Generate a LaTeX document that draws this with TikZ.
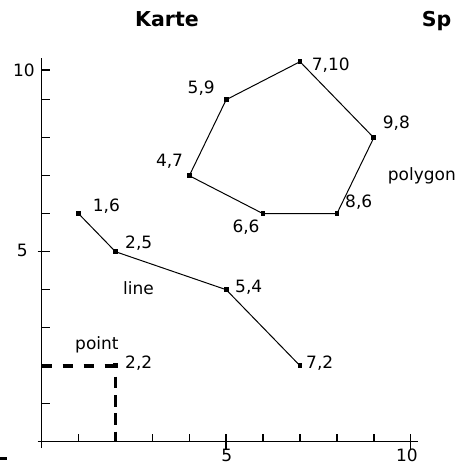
\documentclass[tikz,border=0pt]{standalone}
\usepackage{fontspec}
\setmainfont{DejaVu Sans}

\begin{document}
\begin{tikzpicture}[x=1.107cm, y=1.14cm,
    axis/.style={line width=1.3pt},
    edge/.style={line width=0.85pt},
    pt/.style={rectangle, fill=black, inner sep=0pt, minimum size=0.14cm},
    num/.style={inner sep=0pt, font=\fontsize{14.5}{17}\selectfont},
    hdr/.style={inner sep=0pt, font=\bfseries\fontsize{17.5}{20}\selectfont},
    hdash/.style={line width=3.2pt, dash pattern=on 0.3cm off 0.33cm},
    vdash/.style={line width=2pt, dash pattern=on 0.35cm off 0.2cm}
  ]
    \clip (-1.13,-0.613) rectangle (11.2,11.624);
    \coordinate (o) at (0,0);

    % axes
    \draw[axis] (-0.11,0) -- (10.2,0);
    \draw[axis] (0,-0.17) -- (0,10.1);
    \foreach \x in {1,2,3,4,6,7,8,9} {
      \draw[axis] (\x,0) -- (\x,0.21);
    }
    \foreach \x in {5,10} {
      \draw[axis] (\x,-0.18) -- (\x,0.21);
    }
    \foreach \y in {1,2,3,4,6,7,8,9,9.78} {
      \draw[axis] (0,\y) -- (0.217,\y);
    }
    \draw[axis] (-0.11,5) -- (0.217,5);
    \node[num, anchor=east] (ty10) at (-0.182,9.782) {10};
    \node[num, anchor=east] (ty5) at (-0.371,5.026) {5};
    \node[num] (tx5) at (5.014,-0.35) {5};
    \node[num] (tx10) at (9.9,-0.35) {10};
    \draw[line width=2.5pt] (-1.13,-0.43) -- (-0.932,-0.43);

    \node[hdr, anchor=base] (karte) at (3.396,10.929) {Karte};
    \node[hdr, anchor=base west] (sp) at (10.298,10.929) {Sp};

    % polygon
    \node[pt] (g1) at (5,9) {};
    \node[pt] (g2) at (7,10) {};
    \node[pt] (g3) at (9,8) {};
    \node[pt] (g4) at (8,6) {};
    \node[pt] (g5) at (6,6) {};
    \node[pt] (g6) at (4,7) {};
    \draw[edge] (g1.center) -- (g2.center) -- (g3.center) -- (g4.center)
      -- (g5.center) -- (g6.center) -- cycle;
    \node[num, anchor=east] at (4.696,9.308) {5,9};
    \node[num, anchor=west] at (7.317,9.913) {7,10};
    \node[num, anchor=west] at (9.241,8.387) {9,8};
    \node[num, anchor=west] at (8.219,6.316) {8,6};
    \node[num] at (5.537,5.658) {6,6};
    \node[num, anchor=east] at (3.837,7.368) {4,7};
    \node[num, anchor=west] (poly) at (9.377,6.992) {polygon};

    % line
    \node[pt] (l1) at (1,6) {};
    \node[pt] (l2) at (2,5) {};
    \node[pt] (l3) at (5,4) {};
    \node[pt] (l4) at (7,2) {};
    \draw[edge] (l1.center) -- (l2.center) -- (l3.center) -- (l4.center);
    \node[num, anchor=west] at (1.382,6.203) {1,6};
    \node[num, anchor=west] at (2.257,5.229) {2,5};
    \node[num, anchor=west] at (5.238,4.053) {5,4};
    \node[num, anchor=west] at (7.163,2.071) {7,2};
    \node[num, anchor=west] (line) at (2.203,4.053) {line};

    % point
    \node[pt] (p) at (2,2) {};
    \draw[hdash] (o |- p) -- (p.center);
    \draw[vdash, shorten <=0.33cm] (p.center) -- (p |- o);
    \node[num, anchor=west] at (2.257,2.071) {2,2};
    \node[num, anchor=west] (point) at (0.902,2.545) {point};
  \end{tikzpicture}
\end{document}
